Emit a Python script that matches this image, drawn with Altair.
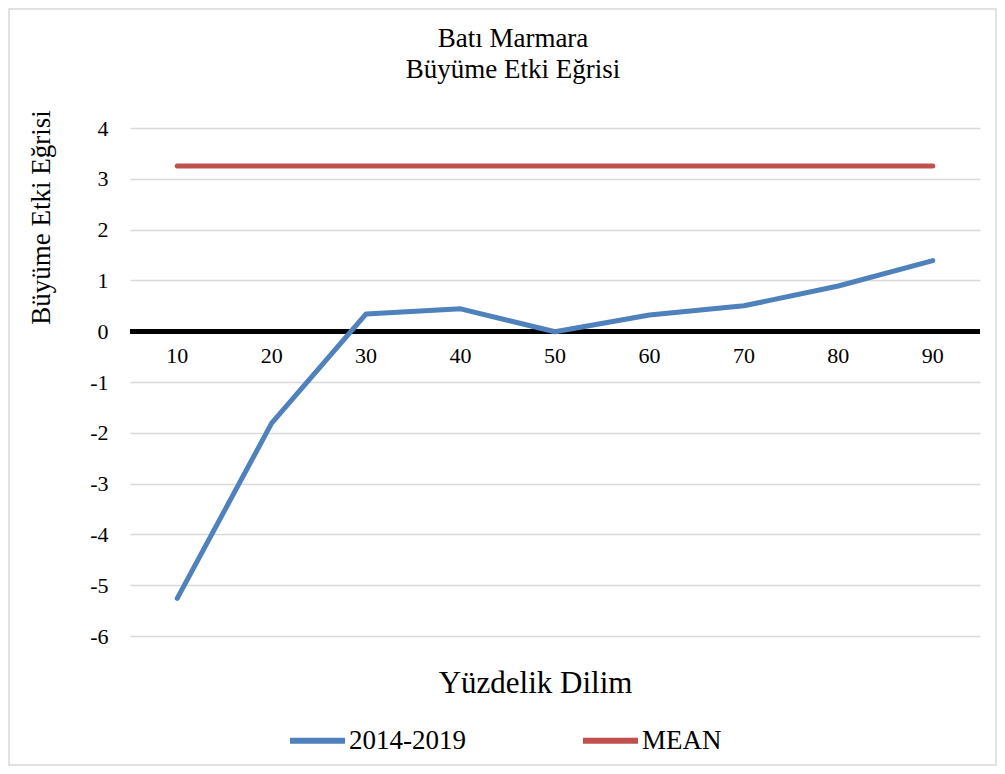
import altair as alt
import pandas as pd

# ---- data ----
percentiles = ["10", "20", "30", "40", "50", "60", "70", "80", "90"]
growth_2014_2019 = [-5.26, -1.81, 0.34, 0.44, -0.01, 0.32, 0.50, 0.89, 1.39]
mean_value = [3.25] * 9
series_names = ["2014-2019", "MEAN"]
series_colors = ["#4F81BD", "#C0504D"]
y_ticks = [-6, -5, -4, -3, -2, -1, 0, 1, 2, 3, 4]

FONT = "Liberation Serif"

long_df = pd.DataFrame({
    "p": percentiles * 2,
    "v": growth_2014_2019 + mean_value,
    "series": [series_names[0]] * 9 + [series_names[1]] * 9,
})
lab_df = pd.DataFrame({"p": percentiles})

x_enc = alt.X("p:O", sort=percentiles,
              scale=alt.Scale(type="point", padding=0.5),
              axis=alt.Axis(labels=False, ticks=False, domain=False, grid=False,
                            title="Yüzdelik Dilim", titleFont=FONT,
                            titleFontSize=31, titleFontWeight="normal",
                            titleColor="black", titleX=405, titleY=56,
                            titleBaseline="alphabetic", titleAlign="center"))
y_scale = alt.Scale(domain=[-6, 4], nice=False)
y_axis = alt.Axis(values=y_ticks, grid=True, gridColor="#d9d9d9", gridWidth=1.3,
                  ticks=False, domain=False, labelFont=FONT, labelFontSize=22,
                  labelColor="black", labelPadding=22,
                  labelExpr="toString(datum.value)",
                  title="Büyüme Etki Eğrisi", titleFont=FONT, titleFontSize=27,
                  titleFontWeight="normal", titleColor="black",
                  titleAngle=-90, titleX=-89, titleY=89,
                  titleAlign="center", titleBaseline="middle")

base = alt.Chart(long_df)

grid = base.mark_line(opacity=0).encode(
    x=x_enc, y=alt.Y("v:Q", scale=y_scale, axis=y_axis))

zero = alt.Chart(lab_df).mark_rule(color="black", strokeWidth=4.5).encode(
    y=alt.datum(0))

lines = base.mark_line(strokeWidth=5, strokeCap="round", strokeJoin="round").encode(
    x=alt.X("p:O", sort=percentiles),
    y=alt.Y("v:Q"),
    color=alt.Color("series:N",
                    scale=alt.Scale(domain=series_names, range=series_colors),
                    legend=alt.Legend(title=None, orient="none", direction="horizontal",
                                      legendX=157, legendY=582,
                                      symbolType="stroke", symbolSize=3025,
                                      symbolStrokeWidth=6, labelFont=FONT,
                                      labelFontSize=27, labelColor="black",
                                      labelOffset=1, columnPadding=105)),
)

labels = alt.Chart(lab_df).mark_text(font=FONT, fontSize=22, color="black",
                                     baseline="middle", dy=25).encode(
    x=alt.X("p:O", sort=percentiles), y=alt.datum(0), text="p:N")

border = alt.Chart(pd.DataFrame({"a": [0]})).mark_rect(
    filled=False, stroke="#d9d9d9", strokeWidth=1.5).encode(
    x=alt.value(-121), x2=alt.value(866), y=alt.value(-119), y2=alt.value(637))

chart = alt.layer(grid, zero, lines, labels, border).properties(
    width=850, height=508,
    title=alt.TitleParams(text=["Batı Marmara", "Büyüme Etki Eğrisi"],
                          font=FONT, fontSize=27, fontWeight="normal",
                          color="black", anchor="middle", dx=-42, offset=-76,
                          lineHeight=31),
    autosize=alt.AutoSizeParams(type="none"),
    padding={"left": 122, "top": 120, "right": 17, "bottom": 130},
).configure_view(stroke=None)

chart.save("out.html", embed_options={"renderer": "svg", "actions": False})
